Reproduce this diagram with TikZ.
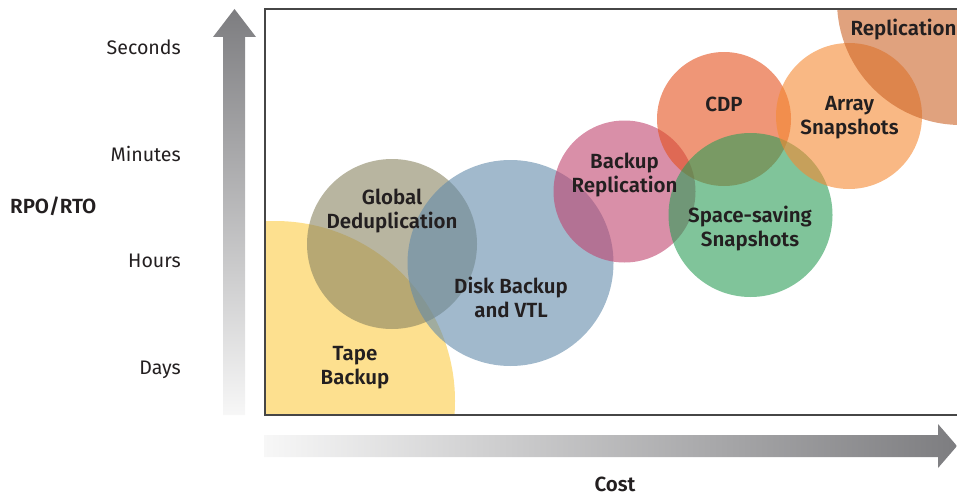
\documentclass[tikz,border=0pt]{standalone}
\usepackage{fontspec}
\setmainfont{Fira Sans}[BoldFont={Fira Sans SemiBold}]
\usetikzlibrary{positioning}
\definecolor{textdark}{RGB}{35,31,32}
\definecolor{tapeyellow}{RGB}{253,224,143}
\definecolor{dedupolive}{RGB}{137,132,97}
\definecolor{diskblue}{RGB}{98,138,170}
\definecolor{replpink}{RGB}{192,68,110}
\definecolor{cdpred}{RGB}{228,80,28}
\definecolor{snapgreen}{RGB}{43,157,87}
\definecolor{arrayorange}{RGB}{245,137,50}
\definecolor{replbrown}{RGB}{203,100,40}
\definecolor{arrowgray}{RGB}{125,125,128}
\definecolor{arrowlight}{RGB}{247,247,247}
\definecolor{framegray}{RGB}{70,70,70}

\begin{document}
\begin{tikzpicture}[x=1pt, y=-1pt,
    bubble/.style={fill opacity=0.6},
    bubbletext/.style={font=\fontsize{20.5}{24}\selectfont\bfseries, text=textdark, align=center, inner sep=0pt},
    tick/.style={font=\fontsize{19.6}{24}\selectfont, text=textdark, anchor=base east, inner sep=0pt},
    axistitle/.style={font=\fontsize{20.5}{24}\selectfont\bfseries, text=textdark, inner sep=0pt}
]
    \useasboundingbox (0,0) rectangle (957,495);

    % Circles - clipped to the plot area
    \begin{scope}
        \clip (265,9) rectangle (957,415);
        \fill[tapeyellow] (275,401) circle (180);
        \fill[bubble, dedupolive] (392,244) circle (85);
        \fill[bubble, diskblue] (510.5,263) circle (103);
        \fill[bubble, replpink] (624.5,191.5) circle (71);
        \fill[bubble, cdpred] (724,119) circle (67);
        \fill[bubble, snapgreen] (750.5,215) circle (82);
        \fill[bubble, arrayorange] (849,116) circle (73);
        \fill[bubble, replbrown] (961,1) circle (124);
    \end{scope}

    % Plot frame
    \draw[framegray, line width=1.4pt] (970,9) -- (265,9) -- (265,415) -- (970,415);

    % Axis arrows
    \shade[top color=arrowgray, bottom color=arrowlight]
        (223,415) -- (223,37) -- (213,37) -- (234.5,9) -- (256,37) -- (245,37) -- (245,415) -- cycle;
    \shade[left color=arrowlight, right color=arrowgray]
        (264,435) -- (938,435) -- (938,424) -- (957,446) -- (938,468) -- (938,457) -- (264,457) -- cycle;

    % Axis labels
    \node[tick] (seconds) at (181,54) {Seconds};
    \node[tick] (minutes) at (181,161) {Minutes};
    \node[tick] (hours) at (181,267) {Hours};
    \node[tick] (days) at (181,374) {Days};
    \node[axistitle, anchor=base west] (rpo) at (10,213) {RPO/RTO};
    \node[axistitle, anchor=base] (cost) at (615,491) {Cost};

    % Technology labels
    \node[bubbletext] (tape) at (355,368) {Tape\\Backup};
    \node[bubbletext] (dedup) at (392,211) {Global\\Deduplication};
    \node[bubbletext] (disk) at (511,297) {Disk Backup\\and VTL};
    \node[bubbletext] (backrepl) at (624.5,174.5) {Backup\\Replication};
    \node[bubbletext] (cdp) at (724,104) {CDP};
    \node[bubbletext] (space) at (750,229) {Space-saving\\Snapshots};
    \node[bubbletext] (array) at (849.5,117.5) {Array\\Snapshots};
    \node[bubbletext] (repl) at (903.5,30) {Replication};
\end{tikzpicture}
\end{document}
